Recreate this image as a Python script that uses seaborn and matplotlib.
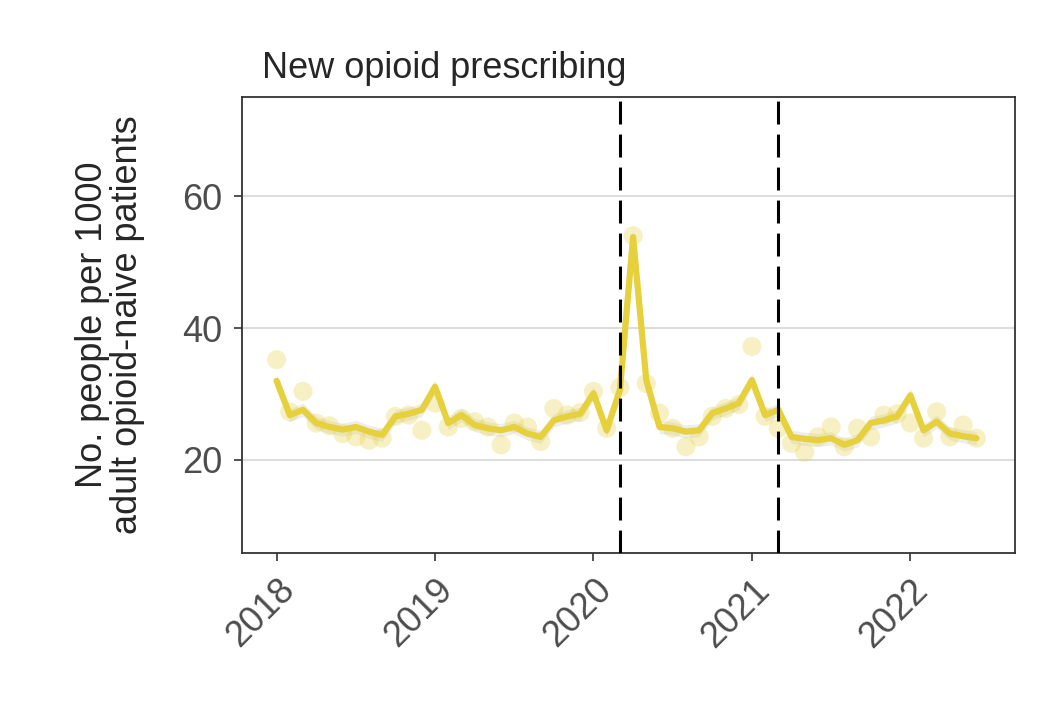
import pandas as pd
import seaborn as sns
import matplotlib.pyplot as plt
import numpy as np

# monthly values, Jan 2018 - Jun 2022
observed = [35.2, 27.3, 30.4, 25.6, 25.2, 24.0, 23.5, 23.0, 23.3, 26.6, 26.8, 24.5,
            28.6, 25.0, 26.3, 25.8, 25.0, 22.3, 25.6, 25.0, 22.8, 27.8, 26.8, 27.2,
            30.4, 24.8, 31.0, 54.0, 31.6, 27.1, 24.8, 22.0, 23.5, 26.6, 27.8, 28.4,
            37.2, 26.6, 24.8, 22.5, 21.2, 23.5, 25.0, 22.0, 24.8, 23.5, 26.8, 27.0,
            25.6, 23.3, 27.3, 23.5, 25.3, 23.3]
fitted = [32.0, 26.8, 27.6, 25.6, 25.0, 24.6, 25.0, 24.3, 23.8, 26.6, 27.0, 27.6,
          31.1, 25.6, 26.8, 25.3, 24.8, 24.5, 25.0, 24.0, 23.5, 26.0, 26.6, 27.0,
          30.1, 24.5, 30.6, 53.8, 32.1, 25.0, 24.8, 24.3, 24.5, 27.1, 27.8, 28.6,
          32.1, 26.8, 27.6, 23.5, 23.2, 23.0, 23.3, 22.3, 23.0, 25.6, 26.0, 26.6,
          29.8, 24.5, 25.8, 24.0, 23.6, 23.3]
ci_half = [1.0] * len(fitted)
year_ticks = [2018, 2019, 2020, 2021, 2022]
breaks = [2020 + 2/12, 2021 + 2/12]  # March 2020, March 2021

df = pd.DataFrame({
    "time": 2018 + np.arange(len(observed)) / 12,
    "observed": observed,
    "fitted": fitted,
})
df["lo"] = df["fitted"] - np.array(ci_half)
df["hi"] = df["fitted"] + np.array(ci_half)

sns.set_style("white")
plt.rcParams['font.family'] = ['Liberation Sans', 'DejaVu Sans']

fig = plt.figure(figsize=(10.42, 7.2), dpi=100)
ax = fig.add_axes([0.232, 0.232, 0.742, 0.633])

col = "#E6D03C"
ax.fill_between(df["time"], df["lo"], df["hi"], color="#CCCCCC", alpha=0.35, lw=0)
sns.scatterplot(data=df, x="time", y="observed", color=col, alpha=0.3, s=190,
                edgecolor="none", ax=ax, zorder=3)
sns.lineplot(data=df, x="time", y="fitted", color=col, lw=4.5, ax=ax, zorder=4)

for b in breaks:
    ax.axvline(b, color="black", ls=(0, (7.5, 3.3)), lw=2.2, zorder=5)

ax.set_xlim(2017.78, 2022.66)
ax.set_ylim(5.9, 75)
ax.set_yticks([20, 40, 60])
ax.set_xticks(year_ticks)
ax.set_xticklabels([str(y) for y in year_ticks], rotation=45, ha="right",
                   rotation_mode="anchor")
ax.yaxis.grid(True, color="#DDDDDD", lw=1.5, zorder=0)
ax.xaxis.grid(False)
ax.set_axisbelow(True)

for s in ax.spines.values():
    s.set_color("#333333")
    s.set_linewidth(1.3)

ax.tick_params(axis="both", which="major", labelsize=26, labelcolor="#4D4D4D",
               color="#333333", length=6, width=1.2, direction="out",
               bottom=True, left=True, pad=8)
ax.set_xlabel("")
ax.set_ylabel("No. people per 1000\nadult opioid-naive patients", fontsize=26,
              linespacing=1.0)
ax.yaxis.set_label_coords(-0.125, 0.5)
ax.text(0.026, 1.042, "New opioid prescribing", fontsize=26, ha="left",
        va="baseline", transform=ax.transAxes)

plt.savefig("out.png", dpi=100)
